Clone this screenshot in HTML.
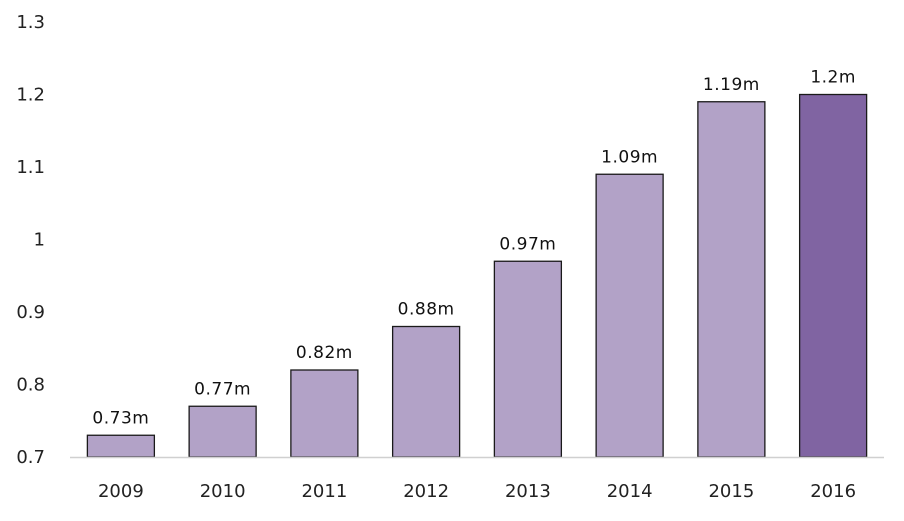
<!DOCTYPE html>
<html><head><meta charset="utf-8"><style>
body{margin:0;background:#fff;}
svg text{font-family:"DejaVu Sans","Liberation Sans",sans-serif;}
</style></head><body>
<svg id="chart" width="904" height="516" xmlns="http://www.w3.org/2000/svg"></svg>
<script>
const categories=["2009","2010","2011","2012","2013","2014","2015","2016"];
const values=[0.73,0.77,0.82,0.88,0.97,1.09,1.19,1.2];
const valueLabels=["0.73m","0.77m","0.82m","0.88m","0.97m","1.09m","1.19m","1.2m"];
const yTicks=[0.7,0.8,0.9,1,1.1,1.2,1.3];
const yTickLabels=["0.7","0.8","0.9","1","1.1","1.2","1.3"];
const NS="http://www.w3.org/2000/svg";
const svg=document.getElementById('chart');
const left=70,right=884,y0=457,y1=22,ymin=0.7,ymax=1.3;
const band=(right-left)/categories.length,bw=67;
const y=v=>y0-(v-ymin)/(ymax-ymin)*(y0-y1);
const x=i=>left+band*i+band/2;
function mk(t,a,txt){const e=document.createElementNS(NS,t);for(const k in a)e.setAttribute(k,a[k]);if(txt!==undefined)e.textContent=txt;svg.appendChild(e);return e;}
yTicks.forEach((t,i)=>{
 const e=mk('text',{x:45,y:y(t)+6,'text-anchor':'end','font-size':'18',fill:'#222'},yTickLabels[i]);
 
 
});
categories.forEach((c,i)=>{
 const last=i===categories.length-1;
 const r=mk('rect',{x:x(i)-bw/2,y:y(values[i]),width:bw,height:y0-y(values[i]),fill:last?'#8064a2':'#b2a2c7',stroke:'#1a1a1a','stroke-width':1.3});
 
 
 const l=mk('text',{x:x(i),y:y(values[i])-12,'text-anchor':'middle','font-size':'17','letter-spacing':'0.5',fill:'#111'},valueLabels[i]);
 
 
 const xl=mk('text',{x:x(i),y:497,'text-anchor':'middle','font-size':'18',fill:'#222'},c);
 
 
});
const ax=mk('line',{x1:left,x2:right,y1:y0+0.5,y2:y0+0.5,stroke:'#d0d0d0','stroke-width':1.5});


</script>
</body></html>
